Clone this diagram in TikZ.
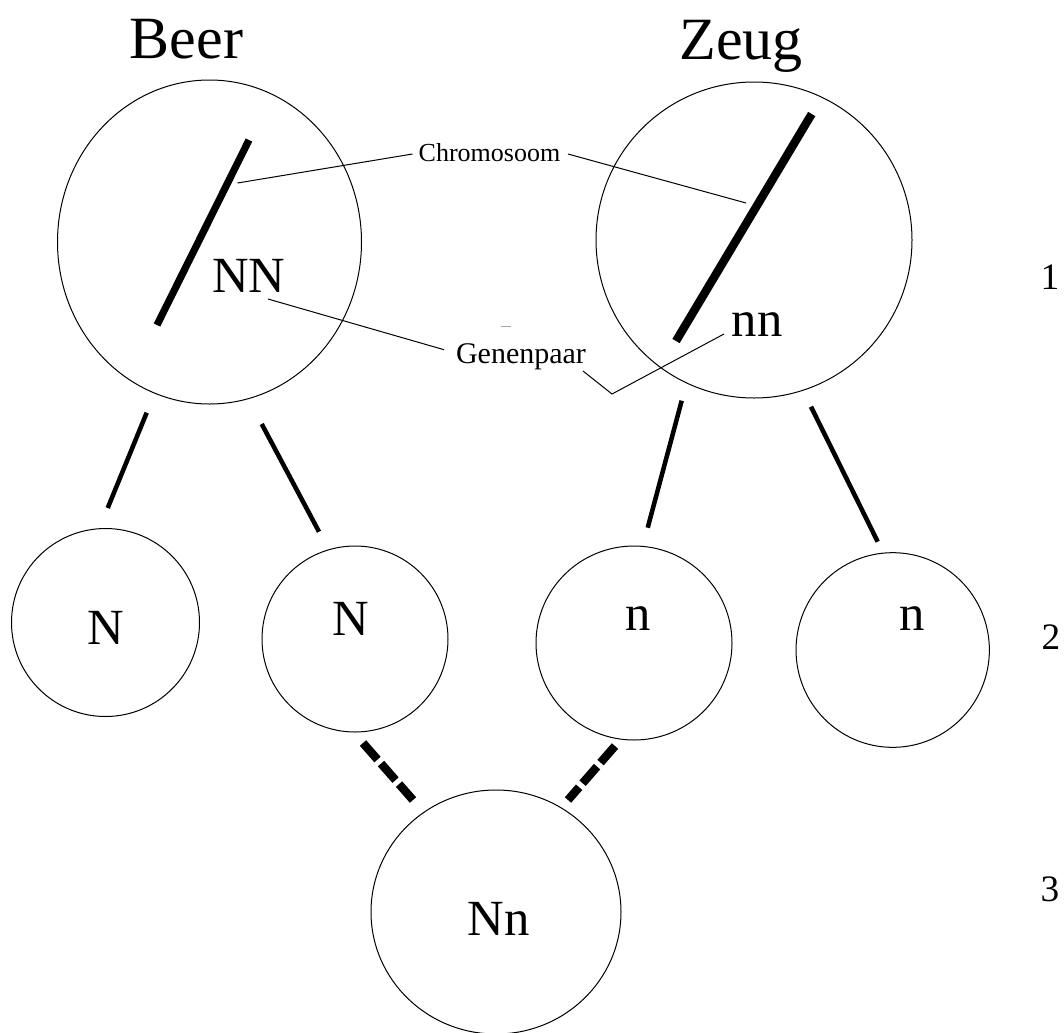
\documentclass[tikz,border=0pt]{standalone}
\usepackage{fontspec}
\setmainfont{Liberation Serif}
\usetikzlibrary{shapes.geometric}
\begin{document}
\begin{tikzpicture}[x=0.75pt,y=-0.75pt,
  cell/.style={draw, line width=0.75pt, ellipse, inner sep=0pt},
  title/.style={font=\fontsize{45}{50}\selectfont, inner sep=0pt, anchor=base},
  gene/.style={font=\fontsize{38}{42}\selectfont, inner sep=0pt, anchor=base},
  num/.style={font=\fontsize{28}{30}\selectfont, inner sep=0pt, anchor=base},
  note/.style={inner sep=0pt, anchor=base},
  chromo/.style={line width=5.4pt},
  link/.style={line width=3.4pt},
  cross/.style={line width=6.3pt, dash pattern=on 16.5pt off 4pt},
  leader/.style={line width=0.75pt}]
\useasboundingbox (0,0) rectangle (1064,1032);

% cells
\node[cell, minimum width=228pt, minimum height=243pt] (beer) at (209.5,242) {};
\node[cell, minimum width=237pt, minimum height=237pt] (zeug) at (754,240) {};
\node[cell, minimum width=141pt, minimum height=141pt] (N1) at (105.5,622.5) {};
\node[cell, minimum width=139.5pt, minimum height=139.5pt] (N2) at (355,639) {};
\node[cell, minimum width=147pt, minimum height=145.5pt] (n1) at (634,643) {};
\node[cell, minimum width=145pt, minimum height=146pt] (n2) at (892.7,650) {};
\node[cell, minimum width=187.5pt, minimum height=183pt] (Nn) at (496,912) {};

% titles and gene labels
\node[title] (tbeer) at (186.5,58) {Beer};
\node[title] (tzeug) at (741,59) {Zeug};
\node[gene] (gNN) at (249,292) {NN};
\node[gene] (gnn) at (757,336.5) {nn};
\node[gene] (gN1) at (106,644) {N};
\node[gene] (gN2) at (351,635) {N};
\node[gene] (gn1) at (638,630) {n};
\node[gene] (gn2) at (912,630) {n};
\node[gene] (gNn) at (498.7,935) {Nn};
\node[num] (r1) at (1050,289) {1};
\node[num] (r2) at (1051,649) {2};
\node[num] (r3) at (1050,901) {3};
\node[note, font=\fontsize{19.5}{22}\selectfont] (lchr) at (489.5,161) {Chromosoom};
\node[note, font=\fontsize{22.5}{25}\selectfont] (lgen) at (521,363) {Genenpaar};

% chromosomes
\coordinate (cb1) at (249,140);
\coordinate (cb2) at (157,325);
\coordinate (cz1) at (811.7,114);
\coordinate (cz2) at (676,341);
\draw[chromo] (cb1) -- (cb2);
\draw[chromo, line width=6.3pt] (cz1) -- (cz2);

% leaders
\coordinate (k1) at (237.5,183);
\coordinate (k1t) at (412.5,154);
\coordinate (k2t) at (568,154);
\coordinate (k2) at (746,203);
\coordinate (g1) at (268,299);
\coordinate (g1t) at (444,349.7);
\coordinate (g2t) at (583,371);
\coordinate (g2m) at (612,394);
\coordinate (g2) at (724,334);
\draw[leader] (k1) -- (k1t);
\draw[leader] (k2t) -- (k2);
\draw[leader] (g1) -- (g1t);
\draw[leader] (g2t) -- (g2m) -- (g2);
\coordinate (gm1) at (501,326.6);
\coordinate (gm2) at (511,326.6);
\draw[line width=0.75pt, black!35] (gm1) -- (gm2);

% links to gametes
\coordinate (a1) at (146.7,412.7); \coordinate (a2) at (107.7,508);
\coordinate (b1) at (261.7,424);   \coordinate (b2) at (319,531.7);
\coordinate (c1) at (681.7,400.7); \coordinate (c2) at (647.7,527.7);
\coordinate (d1) at (811,406.7);   \coordinate (d2) at (877.7,541.7);
\draw[link] (a1) -- (a2);
\draw[link] (b1) -- (b2);
\draw[link] (c1) -- (c2);
\draw[link] (d1) -- (d2);

% fertilisation
\coordinate (e1) at (363,743); \coordinate (e2) at (413,800);
\coordinate (f1) at (615,746); \coordinate (f2) at (568,800);
\draw[cross] (e1) -- (e2);
\draw[cross] (f1) -- (f2);
\end{tikzpicture}
\end{document}
